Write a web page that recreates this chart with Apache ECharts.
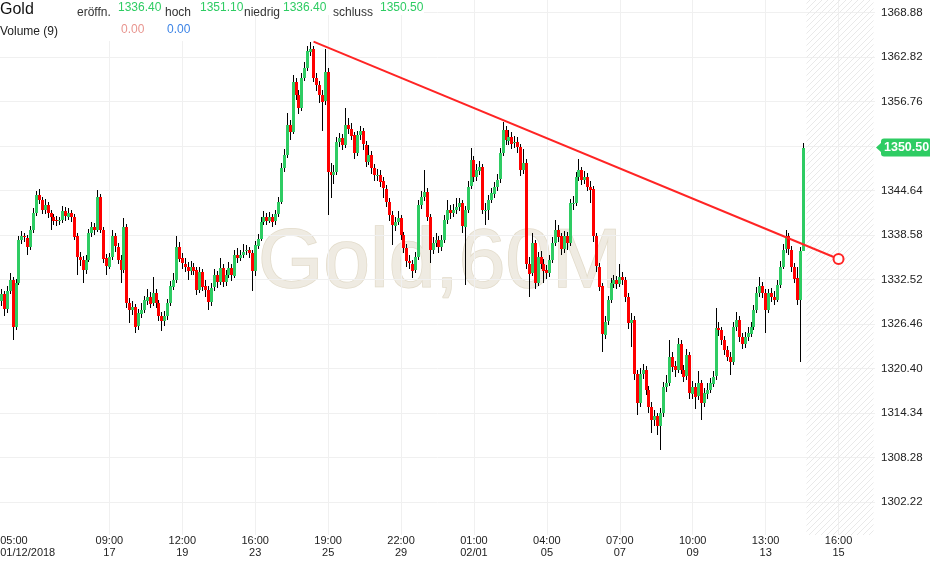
<!DOCTYPE html>
<html>
<head>
<meta charset="utf-8">
<title>Gold 60M</title>
<script src="https://cdn.jsdelivr.net/npm/echarts@6/dist/echarts.min.js"></script>
<style>
  html, body { margin: 0; padding: 0; background: #fff; }
  #main { width: 930px; height: 562px; }
</style>
</head>
<body>
<div id="main"></div>
<script>
// 2-hour candles (open = previous close)
var firstOpen = 1329.5;
var closes = [
  1330.5, 1328.5, 1331.0, 1332.5, 1326.1, 1332.1, 1337.9, 1338.4, 1338.2, 1337.0,
  1339.3, 1341.6, 1344.0, 1343.3, 1342.0, 1342.7, 1341.6, 1341.1, 1340.6, 1340.4,
  1340.6, 1341.8, 1341.1, 1341.6, 1341.1, 1338.4, 1335.6, 1335.2, 1333.8, 1335.2,
  1338.9, 1339.7, 1339.3, 1343.8, 1339.3, 1335.4, 1334.3, 1335.6, 1338.4, 1337.0,
  1335.2, 1333.8, 1339.7, 1329.3, 1328.4, 1328.8, 1326.1, 1327.9, 1328.4, 1329.7,
  1330.2, 1329.3, 1330.7, 1329.3, 1327.5, 1326.8, 1327.5, 1329.3, 1331.6, 1332.5,
  1337.0, 1335.4, 1334.7, 1334.3, 1333.8, 1334.3, 1333.8, 1331.1, 1333.6, 1331.6,
  1331.1, 1329.5, 1331.4, 1333.1, 1332.2, 1334.1, 1332.2, 1333.1, 1334.1, 1333.1,
  1335.9, 1335.5, 1335.9, 1336.3, 1336.5, 1336.1, 1333.6, 1337.2, 1338.1, 1340.4,
  1341.1, 1340.6, 1341.1, 1340.4, 1341.4, 1343.1, 1347.7, 1349.5, 1353.6, 1352.7,
  1359.5, 1357.7, 1355.9, 1360.0, 1361.3, 1363.6, 1364.0, 1360.0, 1359.0, 1357.7,
  1356.8, 1360.8, 1347.2, 1346.8, 1347.2, 1351.3, 1351.8, 1350.9, 1353.6, 1353.1,
  1352.2, 1349.7, 1352.2, 1352.7, 1350.9, 1348.6, 1349.5, 1347.7, 1346.8, 1346.8,
  1345.9, 1344.9, 1343.1, 1341.3, 1339.9, 1340.4, 1340.9, 1338.6, 1336.8, 1335.0,
  1334.7, 1333.8, 1335.6, 1342.7, 1343.8, 1344.5, 1341.1, 1336.6, 1337.5, 1337.9,
  1337.0, 1337.9, 1340.6, 1342.0, 1341.6, 1342.0, 1342.4, 1342.9, 1339.7, 1342.0,
  1345.2, 1348.8, 1346.5, 1347.4, 1347.9, 1342.0, 1342.0, 1343.4, 1344.3, 1345.2,
  1346.1, 1349.7, 1352.9, 1351.5, 1352.0, 1351.1, 1351.3, 1350.6, 1347.4, 1348.4,
  1334.7, 1333.4, 1337.5, 1332.0, 1335.6, 1334.7, 1333.8, 1333.4, 1335.2, 1337.5,
  1339.3, 1338.4, 1336.6, 1338.4, 1337.5, 1342.9, 1342.9, 1346.5, 1347.4, 1346.1,
  1346.5, 1345.2, 1344.8, 1338.4, 1334.3, 1331.6, 1325.0, 1326.8, 1329.7, 1332.0,
  1332.5, 1332.0, 1332.9, 1332.5, 1330.2, 1326.6, 1327.0, 1319.7, 1315.7, 1319.7,
  1320.2, 1317.5, 1315.2, 1313.4, 1313.9, 1312.5, 1314.3, 1317.9, 1318.4, 1322.0,
  1320.7, 1320.2, 1323.8, 1320.2, 1319.3, 1322.2, 1317.0, 1317.9, 1316.6, 1318.4,
  1315.7, 1317.0, 1317.5, 1318.4, 1319.3, 1325.9, 1325.6, 1324.3, 1322.9, 1322.0,
  1321.3, 1326.1, 1327.0, 1324.7, 1323.8, 1324.7, 1325.2, 1326.1, 1328.4, 1330.7,
  1331.6, 1330.7, 1328.4, 1330.7, 1330.2, 1329.8, 1331.8, 1334.3, 1336.6, 1338.4,
  1336.6, 1334.3, 1332.7, 1329.7, 1336.4, 1350.5
];
var highs = [
  1331.2, 1331.0, 1331.6, 1333.4, 1332.9, 1332.6, 1338.5, 1339.2, 1338.9, 1338.6,
  1339.8, 1342.3, 1344.6, 1344.9, 1343.8, 1343.5, 1343.1, 1342.0, 1341.5, 1341.2,
  1341.0, 1342.5, 1342.4, 1342.3, 1342.0, 1341.5, 1338.8, 1336.3, 1335.7, 1335.9,
  1339.4, 1340.4, 1340.2, 1344.7, 1344.2, 1339.7, 1336.0, 1336.2, 1339.3, 1338.9,
  1337.5, 1335.8, 1340.9, 1340.1, 1330.0, 1329.6, 1329.2, 1328.5, 1329.3, 1330.3,
  1331.3, 1330.8, 1332.9, 1331.2, 1329.8, 1328.1, 1328.2, 1329.9, 1332.3, 1333.4,
  1338.4, 1337.6, 1336.1, 1335.4, 1334.9, 1335.1, 1334.8, 1334.2, 1334.3, 1334.0,
  1332.4, 1331.6, 1332.0, 1333.9, 1333.7, 1335.5, 1334.6, 1333.8, 1334.9, 1334.6,
  1336.5, 1336.8, 1336.6, 1337.4, 1337.2, 1337.0, 1336.6, 1337.8, 1338.7, 1341.0,
  1341.9, 1341.6, 1341.7, 1341.5, 1342.0, 1343.8, 1348.4, 1350.3, 1355.2, 1354.2,
  1360.4, 1360.0, 1358.3, 1360.6, 1362.1, 1364.3, 1364.9, 1364.4, 1360.7, 1359.6,
  1358.4, 1364.0, 1361.3, 1348.4, 1348.1, 1352.0, 1352.5, 1352.4, 1355.9, 1354.6,
  1353.8, 1352.6, 1352.8, 1353.5, 1353.2, 1351.4, 1350.9, 1350.0, 1348.3, 1347.6,
  1347.4, 1346.5, 1345.4, 1343.6, 1341.8, 1341.1, 1341.8, 1341.3, 1339.0, 1337.3,
  1335.8, 1335.2, 1336.3, 1343.4, 1344.6, 1347.4, 1345.0, 1341.5, 1338.3, 1338.8,
  1338.5, 1338.6, 1341.3, 1343.3, 1342.7, 1342.8, 1343.7, 1343.6, 1343.3, 1342.6,
  1345.9, 1350.4, 1349.3, 1348.3, 1348.7, 1348.3, 1342.9, 1344.0, 1345.0, 1345.8,
  1346.9, 1350.4, 1354.0, 1353.5, 1352.9, 1352.6, 1352.1, 1351.9, 1351.0, 1350.3,
  1348.9, 1335.6, 1338.8, 1337.9, 1336.3, 1336.4, 1335.3, 1334.5, 1335.9, 1338.3,
  1340.6, 1339.9, 1338.9, 1339.1, 1339.0, 1343.5, 1343.9, 1347.2, 1349.0, 1347.9,
  1347.3, 1347.0, 1345.9, 1345.3, 1338.9, 1334.8, 1332.1, 1327.5, 1330.3, 1332.7,
  1333.2, 1333.0, 1334.7, 1333.6, 1332.9, 1330.7, 1327.9, 1327.5, 1320.2, 1320.5,
  1321.0, 1320.8, 1318.0, 1315.8, 1314.8, 1314.4, 1315.0, 1318.6, 1319.5, 1324.3,
  1322.6, 1321.4, 1324.5, 1324.3, 1320.9, 1323.0, 1322.6, 1318.7, 1318.4, 1320.1,
  1318.9, 1317.8, 1318.4, 1319.1, 1320.0, 1328.6, 1326.8, 1326.1, 1324.8, 1323.5,
  1322.6, 1326.8, 1328.1, 1327.5, 1325.3, 1325.4, 1326.0, 1326.8, 1329.0, 1331.5,
  1332.9, 1332.2, 1331.2, 1331.3, 1331.4, 1330.9, 1332.4, 1335.0, 1337.3, 1339.3,
  1338.8, 1337.1, 1334.8, 1334.2, 1337.0, 1351.1
];
var lows = [
  1328.9, 1327.6, 1328.0, 1330.6, 1324.3, 1325.7, 1331.8, 1337.3, 1337.6, 1335.9,
  1336.6, 1338.9, 1341.2, 1342.8, 1341.4, 1341.5, 1340.9, 1339.3, 1340.0, 1339.8,
  1339.9, 1340.2, 1340.5, 1340.7, 1340.4, 1337.9, 1333.1, 1334.4, 1332.0, 1333.3,
  1334.9, 1338.3, 1338.6, 1339.0, 1338.8, 1334.8, 1333.1, 1333.9, 1335.2, 1336.3,
  1334.6, 1332.0, 1333.4, 1328.6, 1326.6, 1327.7, 1325.2, 1325.7, 1327.3, 1328.0,
  1329.1, 1328.7, 1328.9, 1328.6, 1326.9, 1325.5, 1326.2, 1327.0, 1328.9, 1331.1,
  1332.1, 1334.9, 1333.9, 1333.6, 1332.5, 1333.2, 1333.1, 1330.4, 1330.7, 1330.9,
  1330.2, 1328.4, 1328.9, 1330.9, 1331.4, 1331.8, 1331.5, 1331.6, 1332.7, 1332.3,
  1332.8, 1334.8, 1335.0, 1335.4, 1335.8, 1335.5, 1330.9, 1333.0, 1336.7, 1337.8,
  1339.9, 1339.9, 1340.2, 1339.7, 1340.0, 1341.0, 1342.8, 1347.2, 1349.1, 1351.6,
  1352.4, 1357.0, 1355.1, 1355.5, 1359.6, 1360.9, 1363.0, 1359.4, 1358.2, 1356.6,
  1352.7, 1356.3, 1341.3, 1343.6, 1345.5, 1346.8, 1350.6, 1350.2, 1350.5, 1352.4,
  1351.5, 1348.9, 1349.3, 1351.6, 1350.2, 1347.9, 1348.1, 1346.9, 1346.0, 1345.9,
  1345.1, 1343.6, 1342.4, 1340.5, 1337.2, 1339.2, 1339.9, 1337.9, 1336.1, 1334.3,
  1333.9, 1332.7, 1333.4, 1335.2, 1342.1, 1343.2, 1340.5, 1334.8, 1336.0, 1337.0,
  1336.2, 1336.4, 1337.5, 1340.1, 1340.8, 1341.0, 1341.5, 1341.9, 1338.9, 1331.8,
  1341.6, 1344.8, 1345.8, 1345.9, 1346.8, 1341.4, 1339.9, 1340.6, 1342.9, 1343.7,
  1344.6, 1345.7, 1349.3, 1350.8, 1350.9, 1350.3, 1350.4, 1349.8, 1346.6, 1346.9,
  1334.0, 1330.2, 1333.0, 1331.2, 1331.6, 1334.0, 1332.0, 1332.6, 1332.9, 1334.8,
  1337.1, 1337.7, 1335.8, 1336.1, 1336.6, 1337.1, 1342.0, 1342.5, 1345.9, 1345.4,
  1345.5, 1344.6, 1343.0, 1337.7, 1333.5, 1330.9, 1322.7, 1324.4, 1326.3, 1329.3,
  1331.4, 1331.3, 1331.5, 1331.8, 1329.5, 1325.8, 1323.4, 1318.9, 1314.1, 1315.2,
  1319.0, 1316.8, 1314.4, 1311.6, 1312.6, 1311.4, 1309.3, 1313.8, 1317.2, 1318.0,
  1319.9, 1319.3, 1319.8, 1319.6, 1318.5, 1318.8, 1316.3, 1316.2, 1314.9, 1316.1,
  1313.4, 1315.1, 1316.3, 1317.0, 1317.9, 1318.9, 1324.9, 1323.6, 1322.2, 1321.4,
  1319.5, 1320.9, 1325.5, 1324.0, 1323.1, 1323.2, 1324.1, 1324.7, 1325.7, 1328.0,
  1330.1, 1330.0, 1325.2, 1327.9, 1329.5, 1329.0, 1329.4, 1331.4, 1333.9, 1336.2,
  1335.9, 1333.6, 1332.0, 1329.0, 1321.3, 1336.4
];

// time axis: 300 slots, the last ones are empty future space
var slotCount = 300;
var tickIdx = [9, 37, 62, 87, 112, 137, 162, 187, 212, 237, 262, 287];
var tickText = ['05:00\n01/12/2018', '09:00\n17', '12:00\n19', '16:00\n23', '19:00\n25', '22:00\n29',
  '01:00\n02/01', '04:00\n05', '07:00\n07', '10:00\n09', '13:00\n13', '16:00\n15'];
var yTicks = [1302.22, 1308.28, 1314.34, 1320.40, 1326.46, 1332.52, 1338.58, 1344.64, 1350.70, 1356.76, 1362.82, 1368.88];

// trend line end points [slot, price]
var trendLine = [[107, 1364.93], [287, 1335.32]];
var futureFrom = 276;

var quoteLabels = ['eröffn.', 'hoch', 'niedrig', 'schluss'];
var quoteValues = ['1336.40', '1351.10', '1336.40', '1350.50'];
var volumeValues = ['0.00', '0.00'];
var lastPrice = 1350.50;

var UP = '#2ecc63', DOWN = '#ff0000';
var FONT = '"Liberation Sans", Arial, sans-serif';

var chart = echarts.init(document.getElementById('main'));

var candles = closes.map(function (c, i) {
  var o = i === 0 ? firstOpen : closes[i - 1];
  return [i, o, c, lows[i], highs[i]];
});
var categories = [];
for (var s = 0; s < slotCount; s++) categories.push(String(s));
var labelMap = {};
tickIdx.forEach(function (k, j) { labelMap[k] = tickText[j]; });

// hatch pattern for the future area
var hatch = document.createElement('canvas');
hatch.width = 6; hatch.height = 6;
var hc = hatch.getContext('2d');
hc.strokeStyle = '#e9e9e9';
hc.lineWidth = 1;
hc.beginPath();
hc.moveTo(0, 6); hc.lineTo(6, 0);
hc.moveTo(-1, 1); hc.lineTo(1, -1);
hc.moveTo(5, 7); hc.lineTo(7, 5);
hc.stroke();

function renderCandle(params, api) {
  var i = api.value(0), o = api.value(1), c = api.value(2);
  var pO = api.coord([i, o]), pC = api.coord([i, c]);
  var pL = api.coord([i, api.value(3)]), pH = api.coord([i, api.value(4)]);
  var x = Math.round(pO[0] - 1.5);
  var top = Math.round(Math.min(pO[1], pC[1]));
  var h = Math.max(1, Math.round(Math.abs(pO[1] - pC[1])));
  return {
    type: 'group',
    children: [
      { type: 'line', shape: { x1: x + 1.5, y1: Math.round(pH[1]), x2: x + 1.5, y2: Math.round(pL[1]) },
        style: { stroke: '#000', lineWidth: 1 } },
      { type: 'rect', shape: { x: x, y: top, width: 3, height: h },
        style: { fill: c >= o ? UP : DOWN } }
    ]
  };
}

var graphics = [
  { type: 'text', id: 'wm', x: 440, y: 264, z: -1, silent: true,
    style: { text: 'Gold,60M', align: 'center', verticalAlign: 'middle', font: '84px ' + FONT,
      fill: '#efebe2', stroke: '#e2dbca', lineWidth: 1.5 } },
  // header background so the grid does not run through the quote line
  { type: 'rect', id: 'hdr1', z: 20, shape: { x: 0, y: 0, width: 424, height: 15 }, style: { fill: '#fff' } },
  { type: 'rect', id: 'hdr2', z: 20, shape: { x: 0, y: 15, width: 194, height: 26 }, style: { fill: '#fff' } },
  { type: 'text', id: 'title', z: 21, x: 0, y: 10, style: { text: 'Gold', verticalAlign: 'middle', font: '16px ' + FONT, fill: '#111' } },
  { type: 'text', id: 'vol', z: 21, x: 0, y: 31.5, style: { text: 'Volume (9)', verticalAlign: 'middle', font: '12px ' + FONT, fill: '#222' } }
];
var labelX = [77, 165, 244, 333], valueX = [118, 200, 283, 380];
quoteLabels.forEach(function (t, j) {
  graphics.push({ type: 'text', id: 'ql' + j, z: 21, x: labelX[j], y: 12.5,
    style: { text: t, verticalAlign: 'middle', font: '12px ' + FONT, fill: '#333' } });
  graphics.push({ type: 'text', id: 'qv' + j, z: 21, x: valueX[j], y: 7.5,
    style: { text: quoteValues[j], verticalAlign: 'middle', font: '12px ' + FONT, fill: UP } });
});
graphics.push({ type: 'text', id: 'v0', z: 21, x: 121, y: 29.5,
  style: { text: volumeValues[0], verticalAlign: 'middle', font: '12px ' + FONT, fill: '#e8958f' } });
graphics.push({ type: 'text', id: 'v1', z: 21, x: 167, y: 29.5,
  style: { text: volumeValues[1], verticalAlign: 'middle', font: '12px ' + FONT, fill: '#3d84e6' } });

var option = {
  animation: false,
  backgroundColor: '#fff',
  textStyle: { fontFamily: FONT },
  grid: { left: 0, right: 55, top: 0, height: 535, outerBoundsMode: 'none', containLabel: false },
  xAxis: {
    type: 'category',
    data: categories,
    boundaryGap: true,
    axisLine: { show: false },
    axisTick: { show: false },
    axisLabel: {
      interval: function (idx) { return labelMap[idx] !== undefined; },
      margin: 0,
      formatter: function (value, idx) {
        var t = labelMap[idx];
        if (!t) return '';
        var parts = t.split('\n');
        var st = idx === tickIdx[0] ? 'l' : 'c';
        return '{' + st + '|' + parts[0] + '}\n{' + st + '|' + parts[1] + '}';
      },
      rich: {
        l: { align: 'left', fontSize: 11, lineHeight: 12, color: '#222', fontFamily: FONT },
        c: { align: 'center', fontSize: 11, lineHeight: 12, color: '#222', fontFamily: FONT }
      }
    },
    splitLine: {
      show: true,
      alignWithLabel: true,
      interval: function (idx) { return labelMap[idx] !== undefined && idx !== tickIdx[0]; },
      lineStyle: { color: '#f0f0f0', width: 1 }
    }
  },
  yAxis: {
    type: 'value',
    position: 'right',
    min: 1297.72,
    max: 1370.61,
    scale: true,
    axisLine: { show: false },
    axisTick: { show: false, customValues: yTicks },
    axisLabel: {
      customValues: yTicks,
      margin: 6,
      color: '#222',
      fontSize: 11.5,
      fontFamily: FONT,
      formatter: function (v) { return v.toFixed(2); }
    },
    splitLine: { show: true, lineStyle: { color: '#f0f0f0', width: 1 } }
  },
  graphic: graphics,
  series: [
    {
      type: 'custom',
      name: 'Gold',
      renderItem: renderCandle,
      data: candles,
      encode: { x: 0, y: [1, 2, 3, 4] },
      z: 3,
      silent: true
    },
    {
      type: 'line',
      name: 'Trend',
      data: trendLine,
      symbol: 'emptyCircle',
      symbolSize: 10,
      lineStyle: { color: '#ff2424', width: 2 },
      itemStyle: { color: '#ff2424', borderWidth: 1 },
      z: 4,
      silent: true,
      markArea: {
        silent: true,
        itemStyle: { color: { image: hatch, repeat: 'repeat' } },
        data: [[{ xAxis: futureFrom }, { xAxis: slotCount - 1 }]]
      },
      markLine: {
        silent: true,
        symbol: ['none', 'none'],
        lineStyle: { color: 'rgba(0,0,0,0)', width: 0 },
        label: {
          show: true,
          position: 'end',
          distance: 6,
          formatter: lastPrice.toFixed(2),
          color: '#fff',
          fontWeight: 'bold',
          fontSize: 12.5,
          fontFamily: FONT,
          backgroundColor: UP,
          padding: [3, 3, 2, 3],
          borderRadius: 3
        },
        data: [{ yAxis: lastPrice }]
      }
    }
  ]
};

chart.setOption(option);

var py = chart.convertToPixel({ yAxisIndex: 0 }, lastPrice);
chart.setOption({
  graphic: [{ type: 'polygon', id: 'tagArrow', z: 10,
    shape: { points: [[876, py], [881.5, py - 5], [881.5, py + 5]] }, style: { fill: UP } }]
});
</script>
</body>
</html>
